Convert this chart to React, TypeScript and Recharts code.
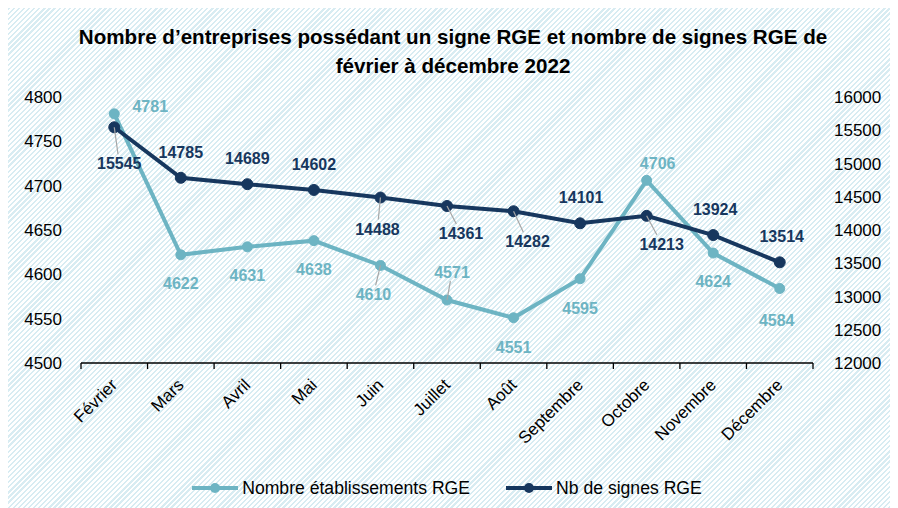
import React from 'react';
import { LineChart, Line, XAxis, YAxis, Legend, LabelList } from 'recharts';

const months = ['Février', 'Mars', 'Avril', 'Mai', 'Juin', 'Juillet', 'Août', 'Septembre', 'Octobre', 'Novembre', 'Décembre'];
const etablissements = [4781, 4622, 4631, 4638, 4610, 4571, 4551, 4595, 4706, 4624, 4584];
const signes = [15545, 14785, 14689, 14602, 14488, 14361, 14282, 14101, 14213, 13924, 13514];
const leftTicks = [4500, 4550, 4600, 4650, 4700, 4750, 4800];
const rightTicks = [12000, 12500, 13000, 13500, 14000, 14500, 15000, 15500, 16000];

const title1 = 'Nombre d’entreprises possédant un signe RGE et nombre de signes RGE de';
const title2 = 'février à décembre 2022';
const nameEtab = 'Nombre établissements RGE';
const nameSignes = 'Nb de signes RGE';
const legendOrder = [nameEtab, nameSignes];

const data = months.map((m, i) => ({ month: m, etab: etablissements[i], signes: signes[i] }));

// label placement (dx, dy from point, leader line flag)
const tealLabelPos: [number, number, boolean][] = [
  [36, -8, false], [0, 28, false], [0, 28, false], [0, 28, false], [-7, 29, true], [5, -28, true],
  [0, 29, false], [0, 29, false], [11, -17, false], [0, 28, false], [-3, 31, false],
];
const navyLabelPos: [number, number, boolean][] = [
  [5, 36, true], [0, -26, false], [0, -26, false], [0, -26, false], [-3, 31, true], [14, 27, true],
  [14, 30, true], [1, -26, false], [15, 28, true], [2, -26, false], [2, -26, false],
];

const TEAL = '#6DB4C3';
const NAVY = '#17375E';
const FONT = '"Liberation Sans", Arial, sans-serif';

const makeLabel = (pos: [number, number, boolean][], color: string) => (props: any) => {
  const { x, y, value, index } = props;
  const [dx, dy, leader] = pos[index];
  const lx = x + dx;
  const ly = y + dy;
  let line = null;
  if (leader) {
    const ey = dy > 0 ? ly - 9 : ly + 9;
    const t = (ey - y) / dy;
    const ex = x + dx * t;
    line = <line x1={x} y1={y} x2={ex} y2={ey} stroke="#A6A6A6" strokeWidth={1.2} />;
  }
  return (
    <g>
      {line}
      <text x={lx} y={ly + 6} textAnchor="middle" fill={color} fontFamily={FONT} fontSize={16} fontWeight="bold">
        {value}
      </text>
    </g>
  );
};

const XTick = (props: any) => {
  const { x, y, payload, index } = props;
  const half = 33.27;
  return (
    <g>
      <line x1={x - half} y1={y} x2={x - half} y2={y + 6} stroke="#000" strokeWidth={1.3} />
      {index === months.length - 1 && (
        <line x1={x + half} y1={y} x2={x + half} y2={y + 6} stroke="#000" strokeWidth={1.3} />
      )}
      <text
        transform={`translate(${x + 4},${y + 23}) rotate(-45)`}
        textAnchor="end"
        fontFamily={FONT}
        fontSize={17}
        fill="#000"
      >
        {payload.value}
      </text>
    </g>
  );
};

const LegendContent = (props: any) => {
  const payload = [...(props.payload || [])].sort(
    (a: any, b: any) => legendOrder.indexOf(a.value) - legendOrder.indexOf(b.value)
  );
  return (
    <div style={{ display: 'flex', justifyContent: 'center', alignItems: 'center', height: 24, fontFamily: FONT, fontSize: 17.6, color: '#000' }}>
      {payload.map((p: any, i: number) => (
        <div key={i} style={{ display: 'flex', alignItems: 'center', marginRight: i === 0 ? 36 : 0 }}>
          <svg width={46} height={12} style={{ display: 'block' }}>
            <line x1={0} y1={6} x2={46} y2={6} stroke={p.color} strokeWidth={4} />
            <circle cx={23} cy={6} r={5} fill={p.color} />
          </svg>
          <span style={{ marginLeft: 4 }}>{p.value}</span>
        </div>
      ))}
    </div>
  );
};

export default function App() {
  return (
    <div
      style={{
        position: 'relative',
        width: 890,
        height: 500,
        background: 'repeating-linear-gradient(-45deg, #FFFFFF 0px, #FFFFFF 2px, #D8ECF2 2px, #D8ECF2 3.6px)',
      }}
    >
      <div
        style={{
          position: 'absolute',
          top: 14,
          left: 0,
          width: 890,
          textAlign: 'center',
          fontFamily: FONT,
          fontWeight: 'bold',
          fontSize: 20.6,
          lineHeight: '29px',
          color: '#000',
        }}
      >
        <div>{title1}</div>
        <div>{title2}</div>
      </div>
      <LineChart width={890} height={500} data={data} margin={{ top: 89, right: 25, left: 13, bottom: 21 }}>
        <XAxis
          dataKey="month"
          scale="point"
          padding={{ left: 33.27, right: 33.27 }}
          interval={0}
          tickLine={false}
          tickSize={0}
          tickMargin={0}
          height={100}
          axisLine={{ stroke: '#000', strokeWidth: 1.3 }}
          tick={<XTick />}
        />
        <YAxis
          yAxisId="left"
          orientation="left"
          domain={[4500, 4800]}
          ticks={leftTicks}
          width={60}
          axisLine={false}
          tickLine={false}
          tickSize={0}
          tickMargin={19}
          tick={{ fontFamily: FONT, fontSize: 17, fill: '#000' }}
        />
        <YAxis
          yAxisId="right"
          orientation="right"
          domain={[12000, 16000]}
          ticks={rightTicks}
          width={60}
          axisLine={false}
          tickLine={false}
          tickSize={0}
          tickMargin={21}
          tick={{ fontFamily: FONT, fontSize: 17, fill: '#000', textAnchor: 'start' }}
        />
        <Legend verticalAlign="bottom" content={<LegendContent />} wrapperStyle={{ bottom: 8 }} />
        <Line
          yAxisId="left"
          type="linear"
          dataKey="etab"
          name={nameEtab}
          stroke={TEAL}
          strokeWidth={4}
          dot={{ r: 5, fill: TEAL, stroke: TEAL, strokeWidth: 1 }}
          activeDot={false}
          isAnimationActive={false}
        >
          <LabelList dataKey="etab" content={makeLabel(tealLabelPos, TEAL)} />
        </Line>
        <Line
          yAxisId="right"
          type="linear"
          dataKey="signes"
          name={nameSignes}
          stroke={NAVY}
          strokeWidth={4}
          dot={{ r: 5.5, fill: NAVY, stroke: NAVY, strokeWidth: 1 }}
          activeDot={false}
          isAnimationActive={false}
        >
          <LabelList dataKey="signes" content={makeLabel(navyLabelPos, NAVY)} />
        </Line>
      </LineChart>
    </div>
  );
}
